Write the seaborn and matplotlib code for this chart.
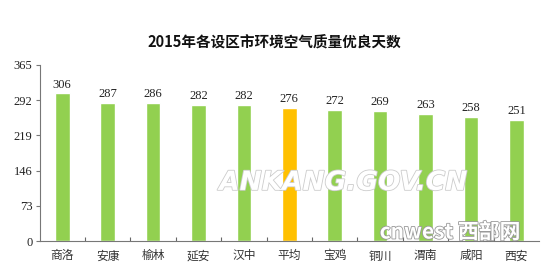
import matplotlib
matplotlib.use("Agg")
import matplotlib.pyplot as plt
import matplotlib.patheffects as pe
import seaborn as sns
import pandas as pd

cities = ["商洛", "安康", "榆林", "延安", "汉中", "平均", "宝鸡", "铜川", "渭南", "咸阳", "西安"]
days = [306, 287, 286, 282, 282, 276, 272, 269, 263, 258, 251]
yticks = [0, 73, 146, 219, 292, 365]
title = "2015年各设区市环境空气质量优良天数"

sns.set_theme(style="white")
plt.rcParams['font.family'] = ['Noto Sans CJK SC', 'DejaVu Sans']

df = pd.DataFrame({"city": cities, "days": days})
colors = ["#FFC000" if c == "平均" else "#92D050" for c in cities]

fig = plt.figure(figsize=(5.49, 2.73), dpi=100)
ax = fig.add_axes([0.072, 0.117, 0.91, 0.645])
sns.barplot(data=df, x="city", y="days", hue="city", palette=colors, legend=False,
            width=0.32, ax=ax, saturation=1)

ax.set_ylim(0, 365)
ax.set_xlim(-0.5, len(cities) - 0.5)
ax.set_yticks(yticks)
ax.set_yticklabels([str(t) for t in yticks], family=['Liberation Serif'], fontsize=9, color="#222222")
ax.set_xticks(range(len(cities)))
ax.set_xticklabels(cities, fontsize=8.5, color="#333333")
ax.tick_params(axis='x', which='major', length=0, pad=6)
ax.set_xticks([i + 0.5 for i in range(len(cities) - 1)], minor=True)
ax.tick_params(axis='x', which='minor', direction='in', length=3, color="#666666", width=0.8, bottom=True)
ax.tick_params(axis='y', direction='out', length=3, color="#777777", width=0.8, left=True, pad=2)
ax.set_xlabel("")
ax.set_ylabel("")
for s in ["top", "right"]:
    ax.spines[s].set_visible(False)
for s in ["left", "bottom"]:
    ax.spines[s].set_color("#777777")
    ax.spines[s].set_linewidth(0.8)

for i, v in enumerate(days):
    ax.text(i, v + 6, str(v), ha="center", va="bottom", fontsize=9,
            family=['Liberation Serif'], color="#222222")

fig.text(0.5, 0.845, title, ha="center", va="center", fontsize=10.5, fontweight="bold", color="#111111")

# watermarks
wm = fig.text(0.625, 0.33, "ANKANG.GOV.CN", ha="center", va="center", fontsize=19,
              fontweight="bold", style="italic", color="white", family=['DejaVu Sans'])
wm.set_path_effects([pe.withStroke(linewidth=1.2, foreground="#cccccc")])
wm2 = fig.text(0.82, 0.15, "cnwest 西部网", ha="center", va="center", fontsize=15,
               fontweight="bold", style="italic", color="white")
wm2.set_path_effects([pe.withStroke(linewidth=1.2, foreground="#999999")])

fig.savefig("out.png", dpi=100)
